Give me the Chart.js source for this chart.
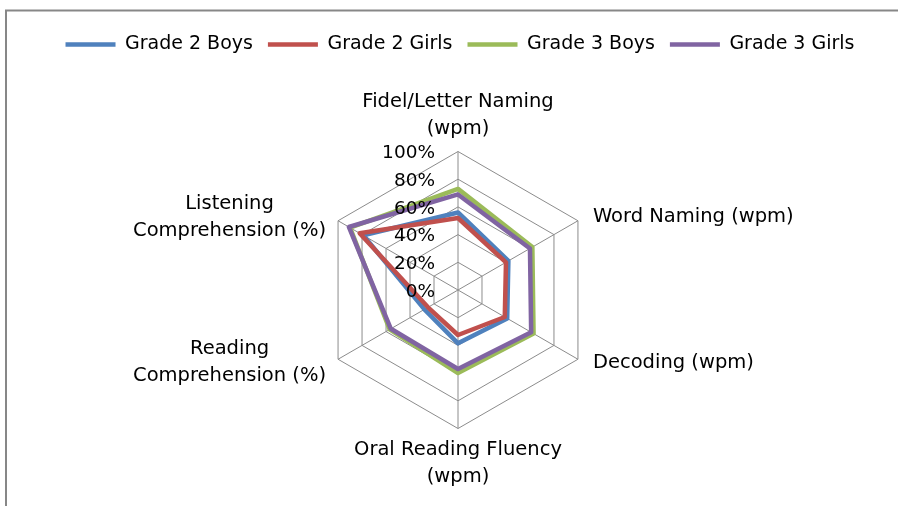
<!DOCTYPE html>
<html><head><meta charset="utf-8">
<script src="https://cdn.jsdelivr.net/npm/chart.js@4.4.0/dist/chart.umd.min.js"></script>
<style>html,body{margin:0;padding:0;background:#fff;}</style>
</head><body>
<canvas id="c" width="898" height="506"></canvas>
<script>
const categories = [
  ["Fidel/Letter Naming", "(wpm)"],
  ["Word Naming (wpm)"],
  ["Decoding (wpm)"],
  ["Oral Reading Fluency", "(wpm)"],
  ["Reading", "Comprehension (%)"],
  ["Listening", "Comprehension (%)"]
];
const seriesNames = ["Grade 2 Boys", "Grade 2 Girls", "Grade 3 Boys", "Grade 3 Girls"];
const grade2Boys  = [56, 42, 41, 38.5, 28, 79];
const grade2Girls = [52, 40, 39, 32.5, 25, 82];
const grade3Boys  = [73, 62, 63, 60, 57, 90];
const grade3Girls = [69, 60, 61, 57, 56, 91];
const tickValues = [0, 20, 40, 60, 80, 100];
const tickLabels = ["0%", "20%", "40%", "60%", "80%", "100%"];

const seriesValues = [grade2Boys, grade2Girls, grade3Boys, grade3Girls];
const seriesColors = ["#4F81BD", "#C0504D", "#9BBB59", "#8064A2"];
const FONT = '"DejaVu Sans"';

const framePlugin = {
  id: 'frame',
  beforeDraw(chart) {
    const ctx = chart.ctx;
    ctx.save();
    ctx.fillStyle = '#fff';
    ctx.fillRect(0, 0, chart.width, chart.height);
    ctx.strokeStyle = '#878787';
    ctx.lineWidth = 2;
    ctx.beginPath();
    ctx.moveTo(6, chart.height);
    ctx.lineTo(6, 10.5);
    ctx.lineTo(chart.width, 10.5);
    ctx.stroke();
    ctx.restore();
  }
};

const textPlugin = {
  id: 'texts',
  afterDatasetsDraw(chart) {
    const s = chart.scales.r;
    const ctx = chart.ctx;
    ctx.save();
    ctx.fillStyle = '#000';
    // tick labels
    ctx.font = '18.5px ' + FONT;
    ctx.textAlign = 'right';
    ctx.textBaseline = 'middle';
    tickValues.forEach((v, i) => {
      const y = s.yCenter - s.getDistanceFromCenterForValue(v);
      ctx.fillText(tickLabels[i], s.xCenter - 23, y + 2);
    });
    // point labels
    ctx.font = '19.5px ' + FONT;
    const lh = 27;
    categories.forEach((lines, i) => {
      const p = s.getPointPosition(i, s.drawingArea);
      const dx = p.x - s.xCenter, dy = p.y - s.yCenter;
      const widths = lines.map(t => ctx.measureText(t).width);
      const bw = Math.max(...widths);
      const bh = lines.length * lh;
      let left, top;
      if (Math.abs(dx) < 1) {
        left = p.x - bw / 2;
        top = dy < 0 ? p.y - 9 - bh : p.y + 8;
      } else if (dx > 0) {
        left = p.x + 15;
        top = p.y + Math.sign(dy) * 3.5 - bh / 2;
      } else {
        left = p.x - 12 - bw;
        top = p.y + Math.sign(dy) * 3.5 - bh / 2;
      }
      ctx.textAlign = 'center';
      ctx.textBaseline = 'middle';
      lines.forEach((t, k) => {
        ctx.fillText(t, left + bw / 2, top + lh * k + lh / 2);
      });
    });
    ctx.restore();
  }
};

const datasets = seriesNames.map((name, i) => ({
  label: name,
  data: seriesValues[i],
  borderColor: seriesColors[i],
  backgroundColor: seriesColors[i],
  borderWidth: 4.5,
  borderJoinStyle: 'round',
  fill: false,
  pointRadius: 0,
  pointHoverRadius: 0,
  order: seriesNames.length - 1 - i
}));

new Chart(document.getElementById('c'), {
  type: 'radar',
  data: { labels: categories, datasets },
  options: {
    responsive: false,
    devicePixelRatio: 1,
    animation: false,
    layout: { padding: { top: 20, left: 22, right: 0, bottom: 0 } },
    plugins: {
      tooltip: { enabled: false },
      legend: {
        position: 'top',
        align: 'center',
        labels: {
          usePointStyle: true,
          pointStyle: 'line',
          pointStyleWidth: 50,
          padding: 15,
          color: '#000',
          font: { family: 'DejaVu Sans', size: 19 },
          sort: (a, b) => a.datasetIndex - b.datasetIndex
        }
      }
    },
    scales: {
      r: {
        min: 0,
        max: 100,
        startAngle: 0,
        ticks: { stepSize: 20, display: false },
        pointLabels: { display: false },
        grid: { color: '#8c8c8c', lineWidth: 1 },
        angleLines: { color: '#8c8c8c', lineWidth: 1 },
        afterFit(scale) {
          scale.xCenter = 458;
          scale.yCenter = 290;
          scale.drawingArea = 138.5;
        }
      }
    }
  },
  plugins: [framePlugin, textPlugin]
});
</script>
</body></html>
